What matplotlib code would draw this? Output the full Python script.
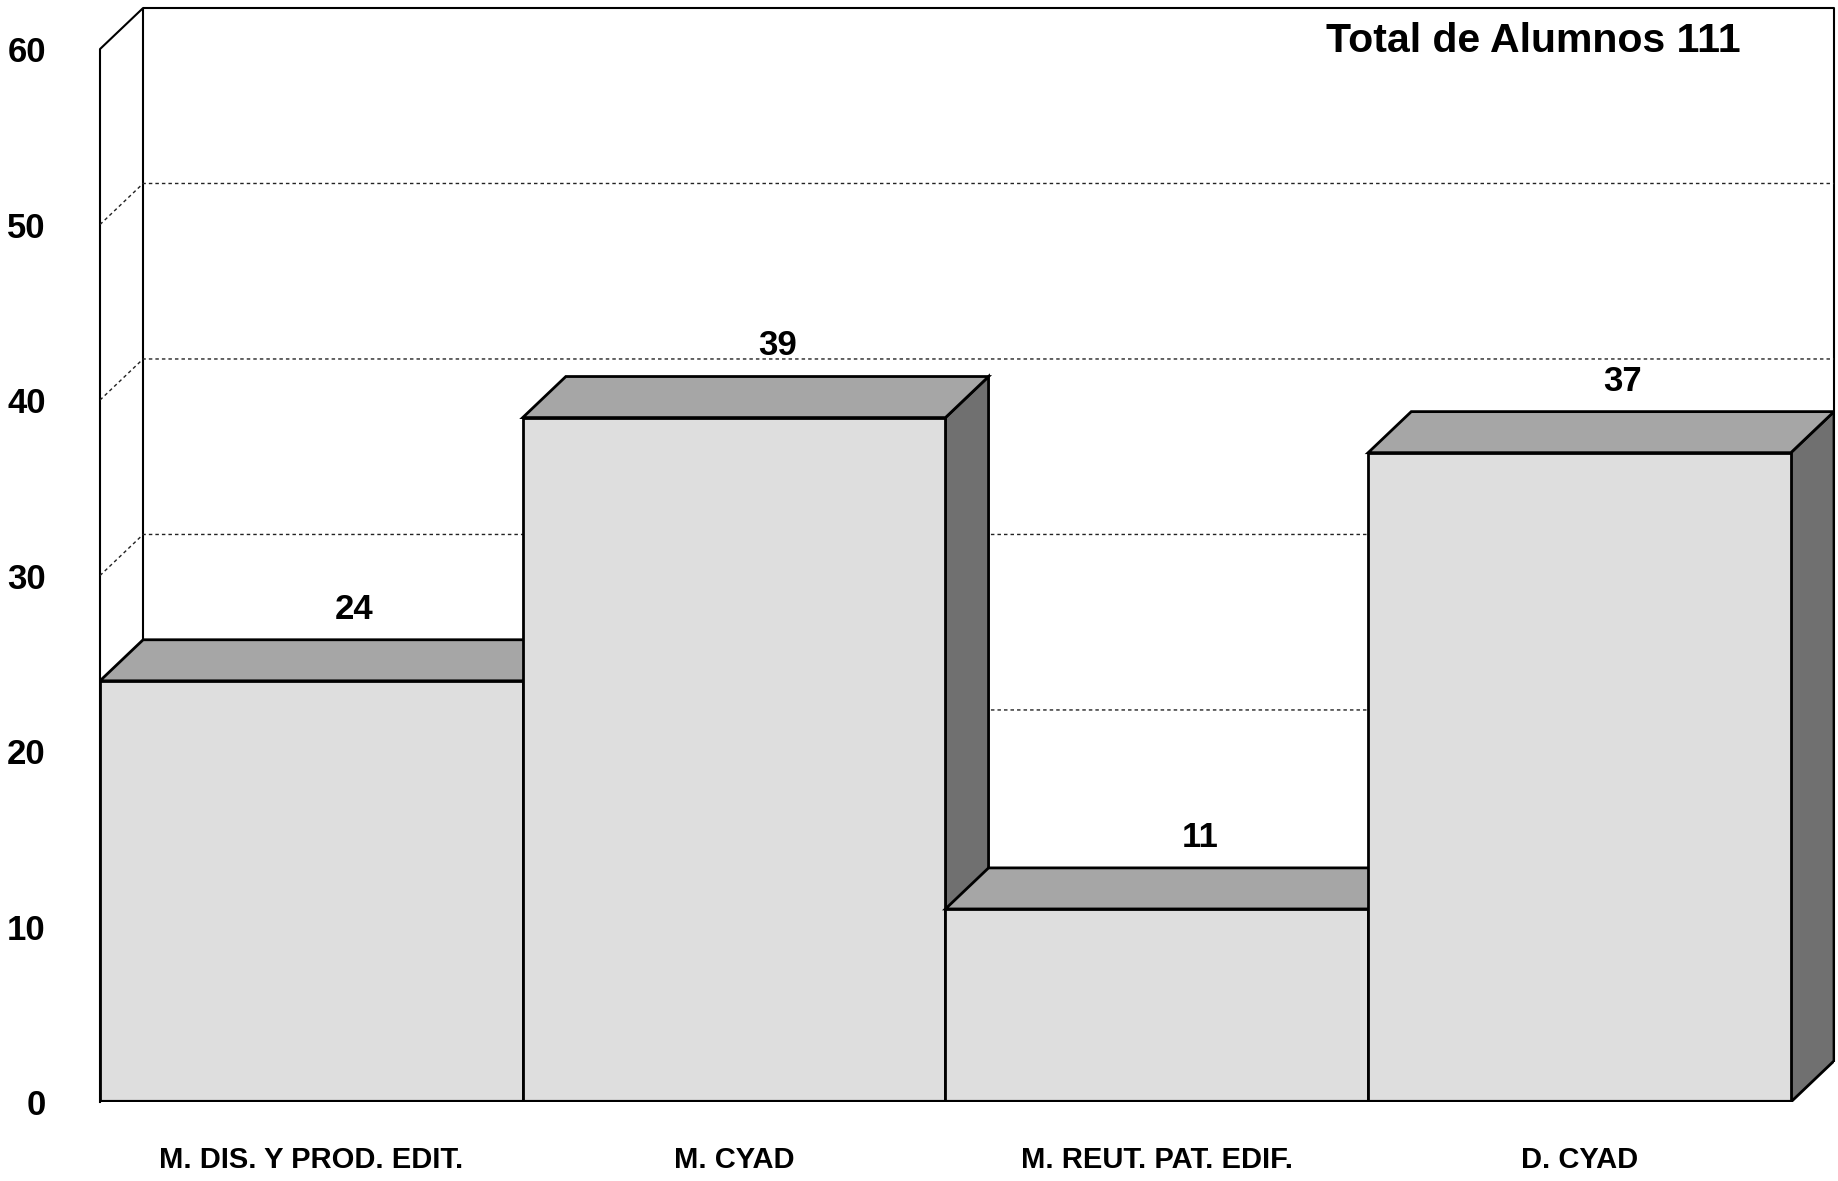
import matplotlib
matplotlib.use("Agg")
import matplotlib.pyplot as plt
from matplotlib.patches import Polygon

plt.rcParams['font.family'] = ['Liberation Sans', 'DejaVu Sans']

# data
carreras = ['M. DIS. Y PROD. EDIT.', 'M. CYAD', 'M. REUT. PAT. EDIF.', 'D. CYAD']
alumnos = [24, 39, 11, 37]
yticks = [0, 10, 20, 30, 40, 50, 60]

# 3d look
dx = 0.102   # depth in category units
dy = 2.34    # depth in value units
c_front = '#dedede'
c_top = '#a6a6a6'
c_side = '#707070'
edge = 'black'
lw = 2.0

fig = plt.figure(figsize=(18.38, 11.81), dpi=100)
ax = fig.add_axes([100 / 1838, 79 / 1181, 1734 / 1838, 1094 / 1181])
ax.set_xlim(-0.5, len(alumnos) - 0.5 + dx)
ax.set_ylim(0, yticks[-1] + dy)
for s in ax.spines.values():
    s.set_visible(False)

x0 = -0.5
x1 = len(alumnos) - 0.5
ymax = yticks[-1]

# walls
ax.plot([x0, x0, x0 + dx, x1 + dx, x1 + dx], [0, ymax, ymax + dy, ymax + dy, dy],
        color=edge, lw=1.5, zorder=1, clip_on=False)
ax.plot([x0 + dx, x0 + dx], [dy, ymax + dy], color=edge, lw=1.5, zorder=1)

# gridlines on back wall and side wall
for t in yticks[1:-1]:
    ax.plot([x0, x0 + dx, x1 + dx], [t, t + dy, t + dy], color='#222222', lw=1.0,
            ls=(0, (2.5, 2.2)), zorder=1)

# bars, left to right so the next bar hides the previous side
for i, v in enumerate(alumnos):
    l, r = i - 0.5, i + 0.5
    side = Polygon([(r, 0), (r + dx, dy), (r + dx, v + dy), (r, v)], closed=True,
                   facecolor=c_side, edgecolor=edge, lw=lw, zorder=2 + i)
    top = Polygon([(l, v), (r, v), (r + dx, v + dy), (l + dx, v + dy)], closed=True,
                  facecolor=c_top, edgecolor=edge, lw=lw, zorder=2 + i)
    front = Polygon([(l, 0), (r, 0), (r, v), (l, v)], closed=True,
                    facecolor=c_front, edgecolor=edge, lw=lw, zorder=2 + i)
    ax.add_patch(side)
    ax.add_patch(top)
    ax.add_patch(front)
    ax.annotate(str(v), xy=(i + dx, v + dy), xytext=(0, 22), textcoords='offset points',
                ha='center', va='center', fontsize=25, fontweight='bold', zorder=10)

# floor line
ax.plot([x0, x1], [0, 0], color=edge, lw=3, zorder=10, solid_capstyle='butt')

ax.set_yticks(yticks)
ax.set_yticklabels([str(t) for t in yticks], fontsize=25, fontweight='bold')
ax.set_xticks(range(len(carreras)))
ax.set_xticklabels(carreras, fontsize=21, fontweight='bold')
ax.tick_params(axis='y', length=0, pad=39)
ax.tick_params(axis='x', length=0, pad=32)

fig.text(1533 / 1838, 1 - 41 / 1181, f'Total de Alumnos {sum(alumnos)}',
         ha='center', va='center', fontsize=29.5, fontweight='bold')

fig.savefig('out.png', dpi=100, facecolor='white')
